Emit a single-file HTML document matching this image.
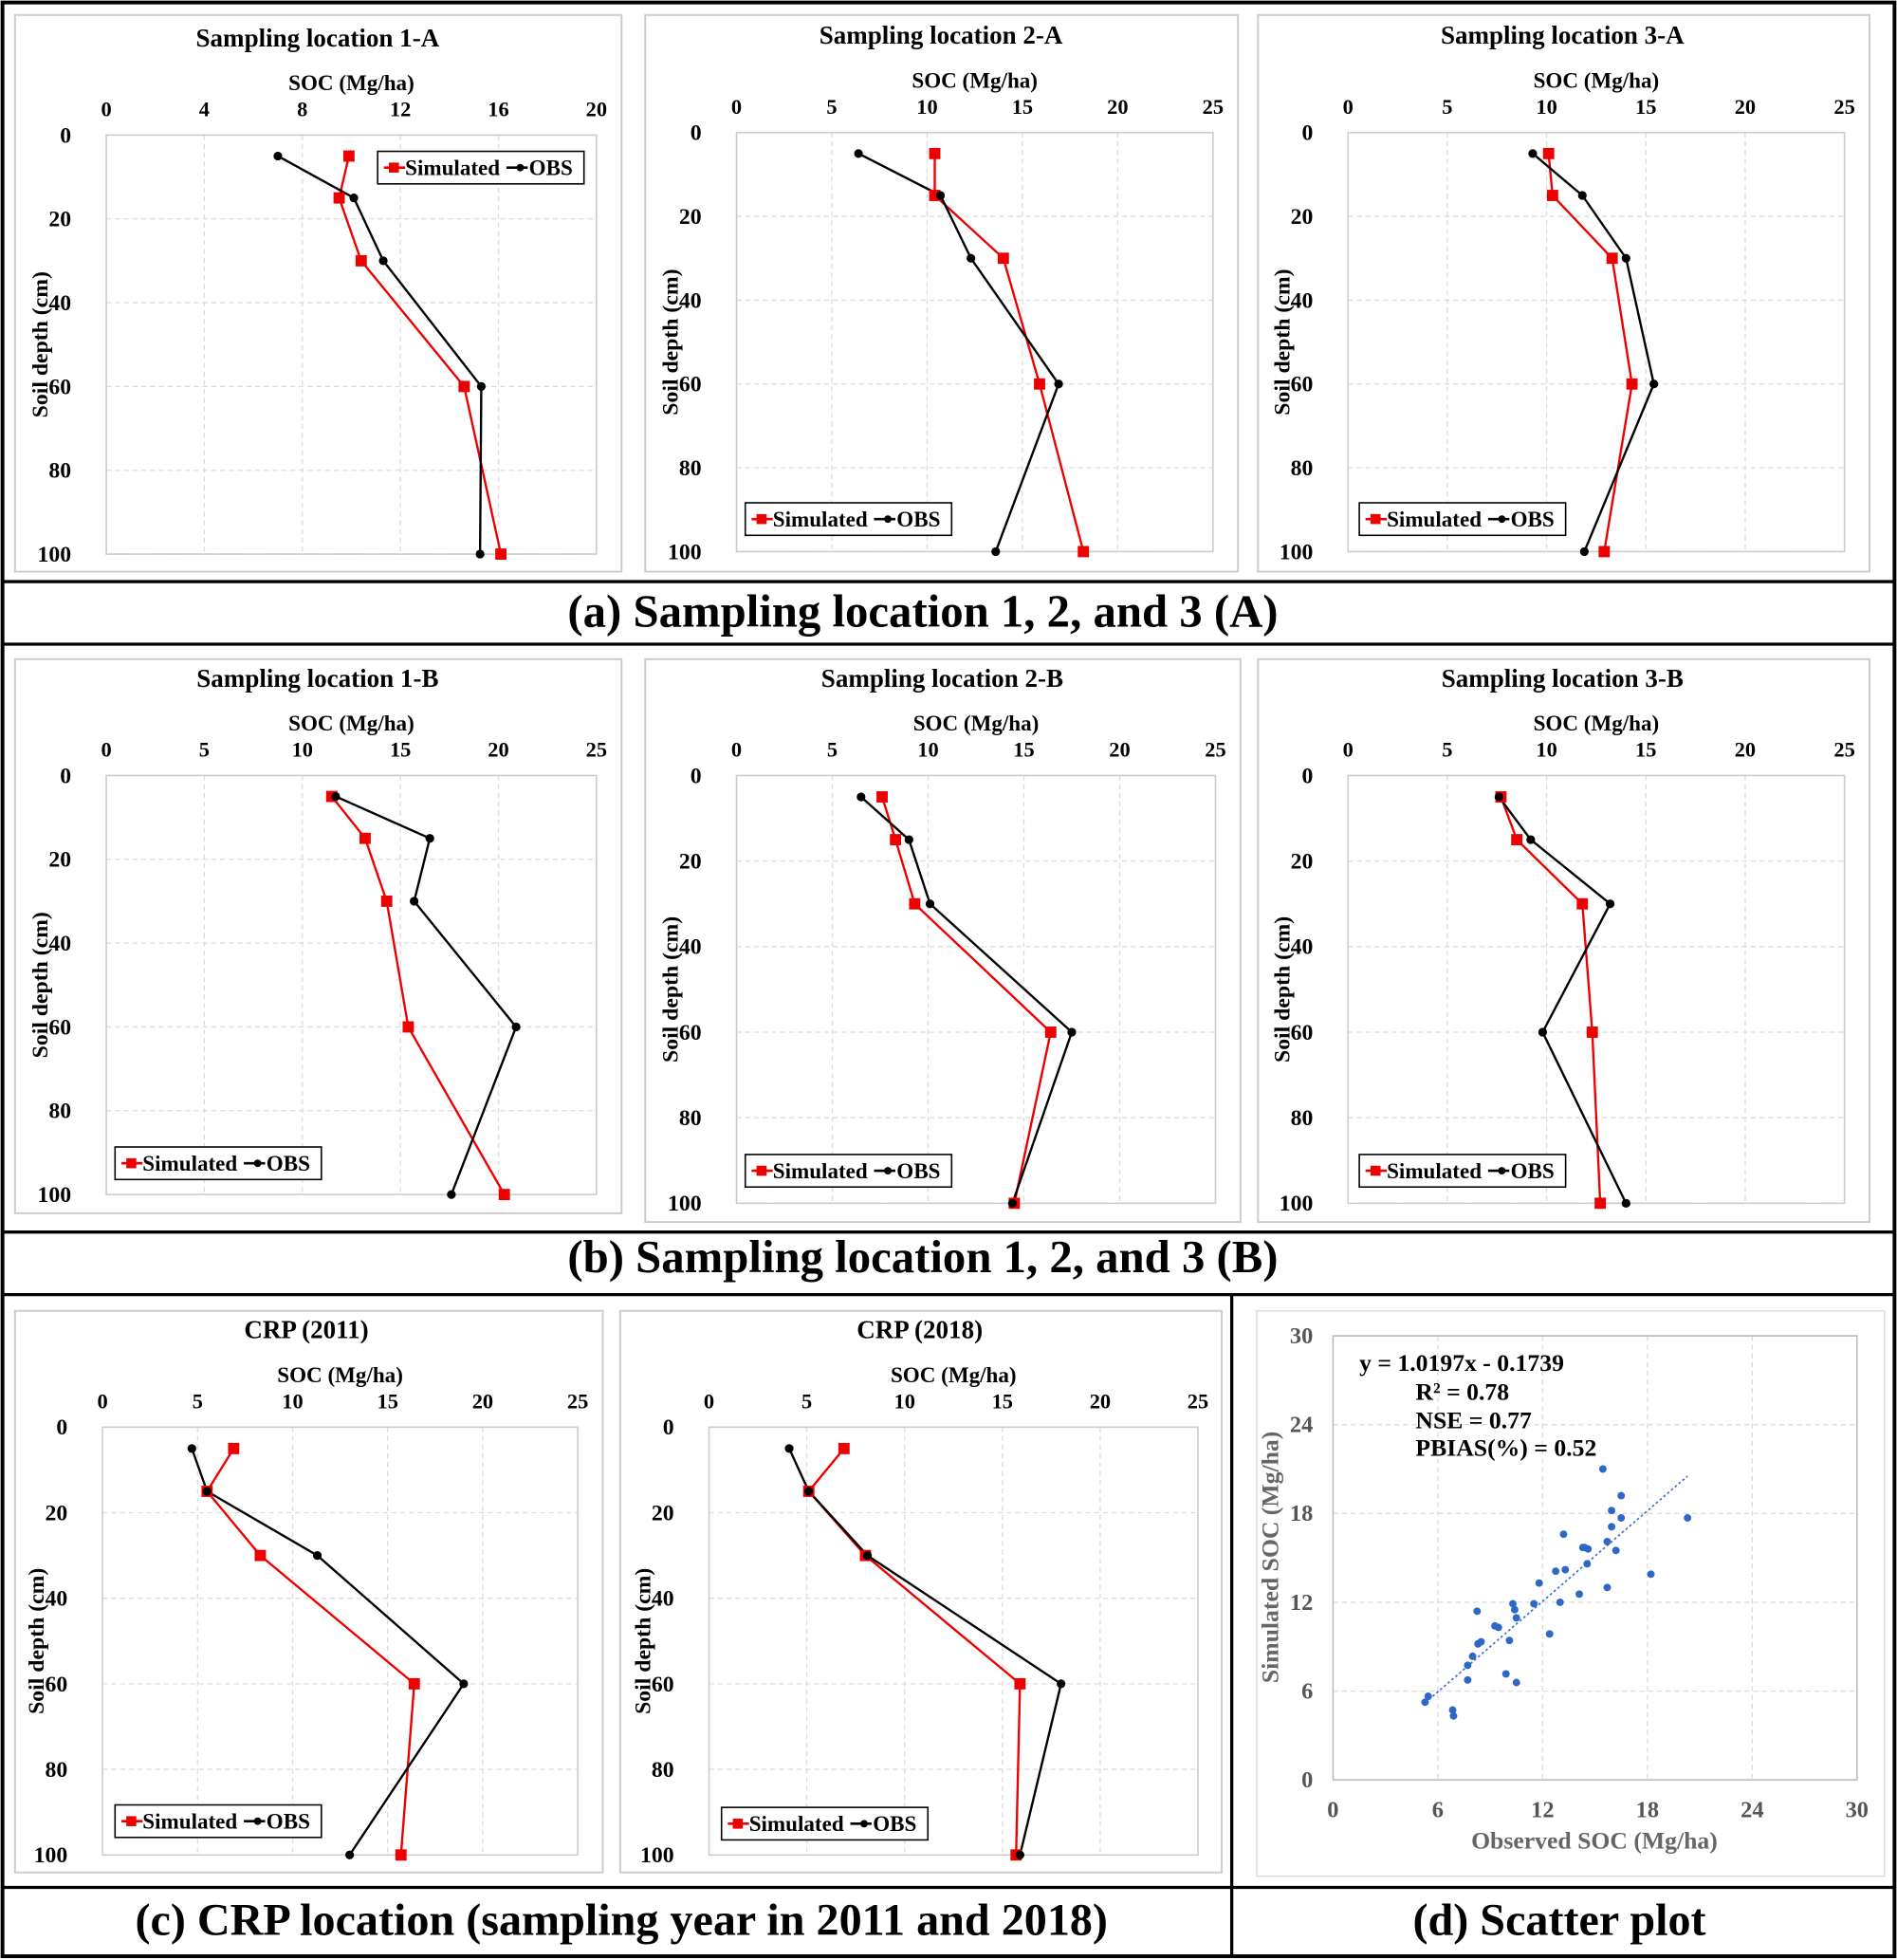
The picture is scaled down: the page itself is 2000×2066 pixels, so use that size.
<!DOCTYPE html>
<html><head><meta charset="utf-8"><style>
html,body{margin:0;padding:0;background:#fff}
svg{display:block}
text{font-family:"Liberation Serif",serif;font-weight:bold}
</style></head><body>
<svg id="fig" width="2000" height="2066" viewBox="0 0 1517 1567" preserveAspectRatio="none" xmlns="http://www.w3.org/2000/svg">
<rect x="2" y="2" width="1513" height="1562" fill="#fff" stroke="#000" stroke-width="3"/>
<g stroke="#000" stroke-width="2.5">
<line x1="2" y1="465" x2="1515" y2="465"/><line x1="2" y1="515" x2="1515" y2="515"/>
<line x1="2" y1="985" x2="1515" y2="985"/><line x1="2" y1="1035" x2="1515" y2="1035"/>
<line x1="2" y1="1509" x2="1515" y2="1509"/><line x1="985" y1="1035" x2="985" y2="1564"/>
</g>
<text x="738" y="501" text-anchor="middle" font-size="37">(a) Sampling location 1, 2, and 3 (A)</text>
<text x="738" y="1017" text-anchor="middle" font-size="37">(b) Sampling location 1, 2, and 3 (B)</text>
<text x="497" y="1547" text-anchor="middle" font-size="36.5">(c) CRP location (sampling year in 2011 and 2018)</text>
<text x="1247" y="1547" text-anchor="middle" font-size="36.5">(d) Scatter plot</text>
</svg>
<script>
const depths = [5, 15, 30, 60, 100];
const depthTicks = [0, 20, 40, 60, 80, 100];
const sim1A = [9.9, 9.5, 10.4, 14.6, 16.1];
const obs1A = [7.0, 10.1, 11.3, 15.3, 15.25];
const sim2A = [10.4, 10.4, 14.0, 15.9, 18.2];
const obs2A = [6.4, 10.7, 12.3, 16.9, 13.6];
const sim3A = [10.1, 10.3, 13.3, 14.3, 12.9];
const obs3A = [9.3, 11.8, 14.0, 15.4, 11.9];
const sim1B = [11.5, 13.2, 14.3, 15.4, 20.3];
const obs1B = [11.7, 16.5, 15.7, 20.9, 17.6];
const sim2B = [7.6, 8.3, 9.3, 16.4, 14.5];
const obs2B = [6.5, 9.0, 10.1, 17.5, 14.4];
const sim3B = [7.7, 8.5, 11.8, 12.3, 12.7];
const obs3B = [7.6, 9.2, 13.2, 9.8, 14.0];
const simCRP11 = [6.9, 5.5, 8.3, 16.4, 15.7];
const obsCRP11 = [4.7, 5.5, 11.3, 19.0, 13.0];
const simCRP18 = [6.9, 5.1, 8.0, 15.9, 15.7];
const obsCRP18 = [4.1, 5.1, 8.1, 18.0, 15.9];
const xTicks20 = [0, 4, 8, 12, 16, 20];
const xTicks25 = [0, 5, 10, 15, 20, 25];
const scatterObs = [15.45,16.5,15.95,16.5,20.3,15.95,13.2,15.7,14.3,14.4,14.6,16.2,14.55,12.75,13.3,11.8,18.2,15.7,14.1,13.0,10.3,10.4,11.5,8.25,10.5,9.27,9.47,12.4,10.1,8.48,8.3,7.99,7.71,9.9,7.71,10.5,5.45,5.27,6.85,6.9];
const scatterSim = [21.0,19.2,18.2,17.7,17.7,17.1,16.6,16.1,15.7,15.7,15.6,15.5,14.6,14.1,14.2,13.3,13.9,13.0,12.55,12.0,11.9,11.5,11.9,11.4,10.95,10.4,10.3,9.86,9.42,9.33,9.19,8.35,7.74,7.16,6.75,6.58,5.65,5.25,4.72,4.32];
const scatterTicks = [0, 6, 12, 18, 24, 30];
const trendSlope = 1.0197, trendIntercept = -0.1739;

const NS = "http://www.w3.org/2000/svg";
const svg = document.getElementById('fig');
function mk(tag, attrs, parent, txt){
  const e = document.createElementNS(NS, tag);
  for (const k in attrs) e.setAttribute(k, attrs[k]);
  if (txt !== undefined) e.textContent = txt;
  (parent || svg).appendChild(e);
  return e;
}

const charts = [
  {id:'1a', title:'Sampling location 1-A', frame:[12,12,497,457], plot:[85,108,477,443], ticks:xTicks20, sim:sim1A, obs:obs1A, leg:[302,121]},
  {id:'2a', title:'Sampling location 2-A', frame:[516,12,990,457], plot:[589,106,970,441], ticks:xTicks25, sim:sim2A, obs:obs2A, leg:[596,402]},
  {id:'3a', title:'Sampling location 3-A', frame:[1006,12,1495,457], plot:[1078,106,1475,441], ticks:xTicks25, sim:sim3A, obs:obs3A, leg:[1087,402]},
  {id:'1b', title:'Sampling location 1-B', frame:[12,527,497,970], plot:[85,620,477,955], ticks:xTicks25, sim:sim1B, obs:obs1B, leg:[92,917]},
  {id:'2b', title:'Sampling location 2-B', frame:[516,527,992,977], plot:[589,620,972,962], ticks:xTicks25, sim:sim2B, obs:obs2B, leg:[596,923]},
  {id:'3b', title:'Sampling location 3-B', frame:[1006,527,1495,977], plot:[1078,620,1475,962], ticks:xTicks25, sim:sim3B, obs:obs3B, leg:[1087,923]},
  {id:'crp2011', title:'CRP (2011)', frame:[12,1048,482,1497], plot:[82,1141,462,1483], ticks:xTicks25, sim:simCRP11, obs:obsCRP11, leg:[92,1443]},
  {id:'crp2018', title:'CRP (2018)', frame:[496,1048,977,1497], plot:[567,1141,958,1483], ticks:xTicks25, sim:simCRP18, obs:obsCRP18, leg:[577,1445]}
];

charts.forEach(c => {
  const g = mk('g', {});
  
  
  const [fx0,fy0,fx1,fy1] = c.frame, [px0,py0,px1,py1] = c.plot;
  mk('rect', {x:fx0,y:fy0,width:fx1-fx0,height:fy1-fy0,fill:'#fff',stroke:'#ccc','stroke-width':1.5}, g);
  const xmax = c.ticks[c.ticks.length-1];
  const X = v => px0 + v/xmax*(px1-px0);
  const Y = d => py0 + d/100*(py1-py0);
  c.ticks.forEach(t => {
    mk('line',{x1:X(t),y1:py0,x2:X(t),y2:py1,stroke:'#ddd','stroke-dasharray':'4,3'}, g);
    const tl = mk('text',{x:X(t),y:py0-15,'text-anchor':'middle','font-size':17}, g, t);
    
    
  });
  depthTicks.forEach(t => {
    mk('line',{x1:px0,y1:Y(t),x2:px1,y2:Y(t),stroke:'#ddd','stroke-dasharray':'4,3'}, g);
    const tl = mk('text',{x:px0-28,y:Y(t)+6,'text-anchor':'end','font-size':18}, g, t);
    
    
  });
  mk('rect',{x:px0,y:py0,width:px1-px0,height:py1-py0,fill:'none',stroke:'#ccc','stroke-width':1.2}, g);
  const tt = mk('text',{x:(px0+px1)/2 - 27,y:py0-71,'text-anchor':'middle','font-size':20.5}, g, c.title);
  
  
  const xt = mk('text',{x:(px0+px1)/2,y:py0-36,'text-anchor':'middle','font-size':17.5}, g, 'SOC (Mg/ha)');
  
  
  const yx = px0-47, yy = (py0+py1)/2;
  const yt = mk('text',{x:yx,y:yy,'text-anchor':'middle','font-size':18,transform:`rotate(-90 ${yx} ${yy})`}, g, 'Soil depth (cm)');
  
  
  const simPts = c.sim.map((v,i)=>X(v)+','+Y(depths[i])).join(' ');
  const obsPts = c.obs.map((v,i)=>X(v)+','+Y(depths[i])).join(' ');
  const sl = mk('polyline',{points:simPts,fill:'none',stroke:'#e00',"stroke-width":1.8}, g);
  
  
  const ol = mk('polyline',{points:obsPts,fill:'none',stroke:'#000',"stroke-width":1.8}, g);
  
  
  c.sim.forEach((v,i) => {
    const m = mk('rect',{x:X(v)-4.5,y:Y(depths[i])-4.5,width:9,height:9,fill:'#e00'}, g);
    
    
  });
  c.obs.forEach((v,i) => {
    const m = mk('circle',{cx:X(v),cy:Y(depths[i]),r:3.5,fill:'#000'}, g);
    
    
  });
  const [lx,ly] = c.leg;
  const lg = mk('g',{}, g);
  
  
  mk('rect',{x:lx,y:ly,width:165,height:26,fill:'#fff',stroke:'#000','stroke-width':1.2}, lg);
  mk('line',{x1:lx+5,y1:ly+13,x2:lx+22,y2:ly+13,stroke:'#e00','stroke-width':2}, lg);
  mk('rect',{x:lx+9,y:ly+9,width:8,height:8,fill:'#e00'}, lg);
  mk('text',{x:lx+22,y:ly+19,'font-size':17.5}, lg, 'Simulated');
  mk('line',{x1:lx+103,y1:ly+13,x2:lx+120,y2:ly+13,stroke:'#000','stroke-width':2}, lg);
  mk('circle',{cx:lx+114,cy:ly+13,r:3,fill:'#000'}, lg);
  mk('text',{x:lx+121,y:ly+19,'font-size':17.5}, lg, 'OBS');
});

// scatter
(function(){
  const g = mk('g', {});
  
  
  mk('rect',{x:1005,y:1048,width:502,height:452,fill:'#fff',stroke:'#ddd','stroke-width':1.2}, g);
  const px0=1066, px1=1485, py0=1068, py1=1423;
  const X = v => px0 + v/30*(px1-px0);
  const Y = v => py1 - v/30*(py1-py0);
  scatterTicks.forEach(t => {
    mk('line',{x1:X(t),y1:py0,x2:X(t),y2:py1,stroke:'#ddd','stroke-dasharray':'4,3'}, g);
    mk('line',{x1:px0,y1:Y(t),x2:px1,y2:Y(t),stroke:'#ddd','stroke-dasharray':'4,3'}, g);
    const a = mk('text',{x:X(t),y:py1+30,'text-anchor':'middle','font-size':18.5,fill:'#555'}, g, t);
    
    
    const b = mk('text',{x:px0-16,y:Y(t)+6,'text-anchor':'end','font-size':18.5,fill:'#555'}, g, t);
    
    
  });
  mk('rect',{x:px0,y:py0,width:px1-px0,height:py1-py0,fill:'none',stroke:'#bbb','stroke-width':1.2}, g);
  const xt = mk('text',{x:1275,y:1478,'text-anchor':'middle','font-size':19.5,fill:'#666'}, g, 'Observed SOC (Mg/ha)');
  
  
  const yt = mk('text',{x:1022,y:1245,'text-anchor':'middle','font-size':19.5,fill:'#666',transform:'rotate(-90 1022 1245)'}, g, 'Simulated SOC (Mg/ha)');
  
  
  const tx0 = Math.min(...scatterObs), tx1 = Math.max(...scatterObs);
  const tl = mk('line',{x1:X(tx0),y1:Y(trendSlope*tx0+trendIntercept),x2:X(tx1),y2:Y(trendSlope*tx1+trendIntercept),stroke:'#4472c4','stroke-width':1.3,'stroke-dasharray':'2,2'}, g);
  
  
  scatterObs.forEach((v,i) => {
    const p = mk('circle',{cx:X(v),cy:Y(scatterSim[i]),r:3,fill:'#2f68c4'}, g);
    
    
  });
  const lines = [['y = 1.0197x - 0.1739',1087,1096],['R² = 0.78',1132,1119],['NSE = 0.77',1132,1142],['PBIAS(%) = 0.52',1132,1164]];
  lines.forEach(l => {
    const t = mk('text',{x:l[1],y:l[2],'font-size':19.5}, g, l[0]);
    
    
  });
})();
</script>
</body></html>
